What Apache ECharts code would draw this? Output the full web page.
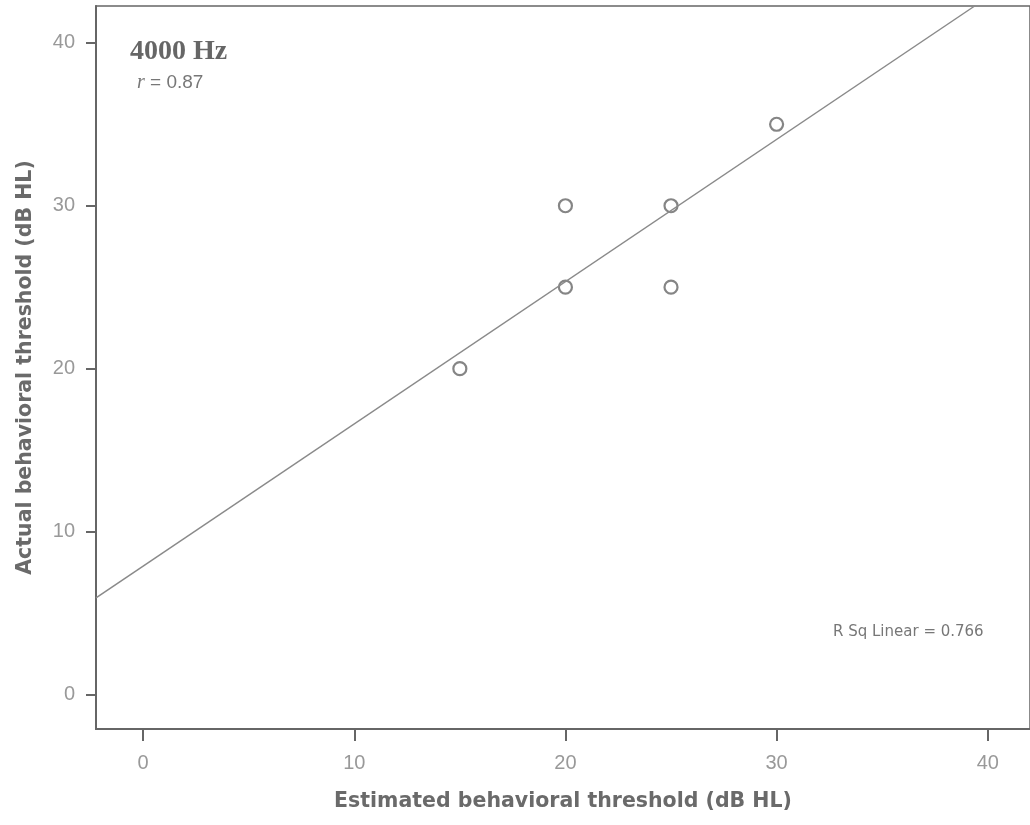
<!DOCTYPE html>
<html>
<head>
<meta charset="utf-8">
<script src="https://cdn.jsdelivr.net/npm/echarts@6/dist/echarts.min.js"></script>
<style>
  html, body { margin: 0; padding: 0; background: #fff; }
  #chart { width: 1030px; height: 825px; }
</style>
</head>
<body>
<div id="chart"></div>
<script>
// tick labels
var xTicks = [0, 10, 20, 30, 40];
var yTicks = [0, 10, 20, 30, 40];

// observations (estimated vs actual, dB HL)
var estimated = [15, 20, 20, 25, 25, 30];
var actual = [20, 25, 30, 25, 30, 35];

// fitted line (ends at the plot edges)
var fitX = [-2.23, 39.38];
var fitY = [5.93, 42.26];

var points = estimated.map(function (x, i) { return [x, actual[i]]; });
var fit = fitX.map(function (x, i) { return [x, fitY[i]]; });

var tickFont = "'Liberation Sans', Arial, sans-serif";
var titleFont = "'DejaVu Sans', Verdana, sans-serif";

var myChart = echarts.init(document.getElementById('chart'));

var option = {
  backgroundColor: '#fff',
  animation: false,
  grid: {
    left: 96,
    right: 0,
    top: 6,
    bottom: 96,
    show: true,
    borderColor: '#666',
    borderWidth: 1.5
  },
  xAxis: {
    type: 'value',
    min: -2.23,
    max: 42,
    name: 'Estimated behavioral threshold (dB HL)',
    nameLocation: 'middle',
    nameGap: 62,
    nameTextStyle: { color: '#6a6a6a', fontSize: 20.5, fontWeight: 'bold', fontFamily: titleFont },
    splitLine: { show: false },
    axisLine: { onZero: false, lineStyle: { color: '#666', width: 2 } },
    axisTick: { show: true, length: 12, customValues: xTicks, lineStyle: { color: '#666', width: 2 } },
    axisLabel: { customValues: xTicks, margin: 24, color: '#999', fontSize: 20, fontFamily: tickFont }
  },
  yAxis: {
    type: 'value',
    min: -2.12,
    max: 42.26,
    name: 'Actual behavioral threshold (dB HL)',
    nameLocation: 'middle',
    nameGap: 60,
    nameTextStyle: { color: '#6a6a6a', fontSize: 20.5, fontWeight: 'bold', fontFamily: titleFont },
    splitLine: { show: false },
    axisLine: { onZero: false, lineStyle: { color: '#666', width: 2 } },
    axisTick: { show: true, length: 10, customValues: yTicks, lineStyle: { color: '#666', width: 2 } },
    axisLabel: { customValues: yTicks, margin: 21, color: '#999', fontSize: 20, fontFamily: tickFont }
  },
  graphic: [
    {
      type: 'text', left: 130, top: 38,
      style: { text: '4000 Hz', fill: '#666', font: "bold 28px 'Liberation Serif', 'DejaVu Serif', serif" }
    },
    {
      type: 'text', left: 137, top: 73,
      style: {
        text: '{r|r} = 0.87',
        fill: '#777',
        font: "19px 'Liberation Sans', sans-serif",
        rich: { r: { fontStyle: 'italic', fontFamily: "'Liberation Serif', serif", fontSize: 20, fill: '#777' } }
      }
    },
    {
      type: 'text', left: 833, top: 625,
      style: { text: 'R Sq Linear = 0.766', fill: '#777', font: "15px 'DejaVu Sans', sans-serif" }
    }
  ],
  series: [
    {
      type: 'line',
      data: fit,
      symbol: 'none',
      silent: true,
      lineStyle: { color: '#8a8a8a', width: 1.5 }
    },
    {
      type: 'scatter',
      data: points,
      symbol: 'circle',
      symbolSize: 13,
      itemStyle: { color: '#fff', borderColor: '#666', borderWidth: 2.2 }
    }
  ]
};

myChart.setOption(option);
</script>
</body>
</html>
